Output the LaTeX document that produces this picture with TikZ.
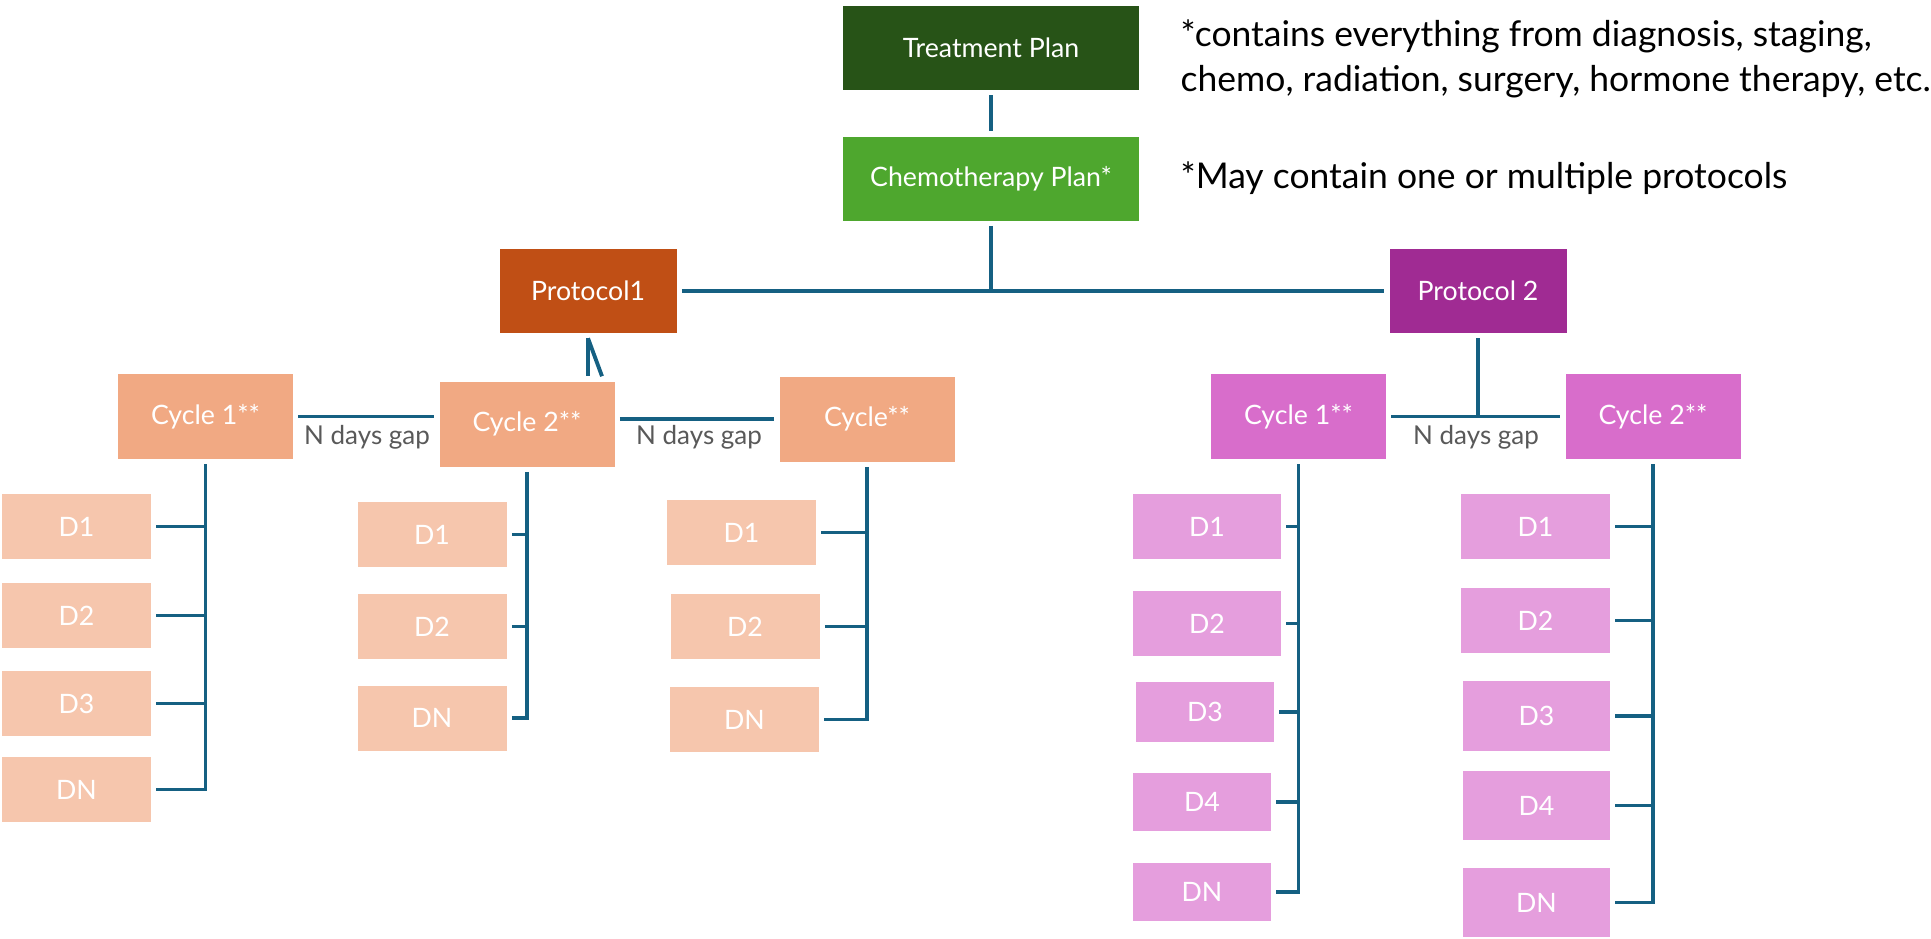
\documentclass[tikz,border=0pt]{standalone}
\usepackage{fontspec}
\setmainfont{Lato}
\usetikzlibrary{positioning,calc}
\definecolor{ink}{HTML}{156082}
\definecolor{forest}{HTML}{275317}
\definecolor{leaf}{HTML}{4EA72E}
\definecolor{rust}{HTML}{C04F15}
\definecolor{plum}{HTML}{A02B93}
\definecolor{peach}{HTML}{F1A983}
\definecolor{peachlt}{HTML}{F6C6AD}
\definecolor{orchid}{HTML}{D86DCB}
\definecolor{orchidlt}{HTML}{E59EDD}
\definecolor{muted}{HTML}{595959}
\tikzset{
  box/.style={inner sep=0pt,outer sep=1.5pt,text=white,font=\fontsize{7.6}{8}\selectfont,minimum width=1.49cm,minimum height=.65cm},
  plan/.style={box,minimum width=2.96cm,minimum height=.84cm},
  proto/.style={box,minimum width=1.77cm,minimum height=.84cm},
  cyc/.style={box,minimum width=1.75cm,minimum height=.85cm},
  link/.style={draw=ink,line width=1.1pt},
  gap/.style={inner sep=0pt,font=\fontsize{7.4}{8}\selectfont,text=muted},
  note/.style={inner sep=0pt,align=left,font=\fontsize{10.1}{12.7}\selectfont,text=black}
}

\begin{document}
\begin{tikzpicture}
  \useasboundingbox (0,0) rectangle (19.31,-9.38);

  % Plan levels and the side notes.
  \node[plan,fill=forest] (treat) at (9.91,-.48) {Treatment Plan};
  \node[plan,fill=leaf] (chemo) at (9.91,-1.785) {Chemotherapy Plan*};
  \node[note,anchor=north west] (note1) at (11.8,-.19)
    {*contains everything from diagnosis, staging,\\chemo, radiation, surgery, hormone therapy, etc.};
  \node[note,anchor=base west] (note2) at (11.8,-1.88) {*May contain one or multiple protocols};

  \node[proto,fill=rust] (p1) at (5.88,-2.91) {Protocol1};
  \node[proto,fill=plum] (p2) at (14.78,-2.91) {Protocol 2};

  \draw[link] (treat.south) -- (chemo.north);
  \draw[link] (chemo.south) -- (chemo.south |- p1.east);
  \draw[link] (p1.east) -- (p2.west);

  % Protocol 1 cycles.
  \node[cyc,fill=peach] (lc1) at (2.055,-4.165) {Cycle 1**};
  \node[cyc,fill=peach] (lc2) at (5.27,-4.24) {Cycle 2**};
  \node[cyc,fill=peach] (lc3) at (8.67,-4.19) {Cycle**};
  \node[gap] (lgap1) at (3.67,-4.37) {N days gap};
  \node[gap] (lgap2) at (6.99,-4.37) {N days gap};

  \draw[link] (p1.south) -- (p1.south |- lc2.north);
  \draw[link] (p1.south) -- ([xshift=1.4mm]p1.south |- lc2.north);
  \draw[link] (lc1.east) -- (lc1.east -| lc2.west);
  \draw[link] (lc3.west -| lc2.east) -- (lc3.west);

  \foreach \n/\y in {1/5.265,2/6.155,3/7.035,N/7.895}{
    \node[box,fill=peachlt] (a\n) at (.765,-\y) {D\n};
    \draw[link] (a\n.east) -- (a\n.east -| lc1.south);
  }
  \draw[link] (lc1.south) |- (aN.east);

  \foreach \n/\y in {1/5.345,2/6.265,N/7.18}{
    \node[box,fill=peachlt] (b\n) at (4.32,-\y) {D\n};
    \draw[link] (b\n.east) -- (b\n.east -| lc2.south);
  }
  \draw[link] (lc2.south) |- (bN.east);

  \foreach \n/\x/\y in {1/7.415/5.325,2/7.45/6.265,N/7.445/7.195}{
    \node[box,fill=peachlt] (c\n) at (\x,-\y) {D\n};
    \draw[link] (c\n.east) -- (c\n.east -| lc3.south);
  }
  \draw[link] (lc3.south) |- (cN.east);

  % Protocol 2 cycles.
  \node[cyc,fill=orchid] (rc1) at (12.985,-4.165) {Cycle 1**};
  \node[cyc,fill=orchid] (rc2) at (16.53,-4.165) {Cycle 2**};
  \node[gap] (rgap) at (14.76,-4.37) {N days gap};

  \draw[link] (p2.south) -- (p2.south |- rc1.east);
  \draw[link] (rc1.east) -- (rc2.west);

  \foreach \n/\x/\y/\w/\h in {1/12.07/5.265/1.48/.65,2/12.07/6.235/1.48/.65,3/12.05/7.12/1.38/.60,4/12.02/8.02/1.38/.58,N/12.02/8.92/1.38/.58}{
    \node[box,fill=orchidlt,minimum width=\w cm,minimum height=\h cm] (e\n) at (\x,-\y) {D\n};
    \draw[link] (e\n.east) -- (e\n.east -| rc1.south);
  }
  \draw[link] (rc1.south) |- (eN.east);

  \foreach \n/\x/\y/\w/\h in {1/15.355/5.265/1.49/.65,2/15.355/6.205/1.49/.65,3/15.365/7.16/1.47/.70,4/15.365/8.055/1.47/.69,N/15.365/9.025/1.47/.69}{
    \node[box,fill=orchidlt,minimum width=\w cm,minimum height=\h cm] (f\n) at (\x,-\y) {D\n};
    \draw[link] (f\n.east) -- (f\n.east -| rc2.south);
  }
  \draw[link] (rc2.south) |- (fN.east);
\end{tikzpicture}
\end{document}
